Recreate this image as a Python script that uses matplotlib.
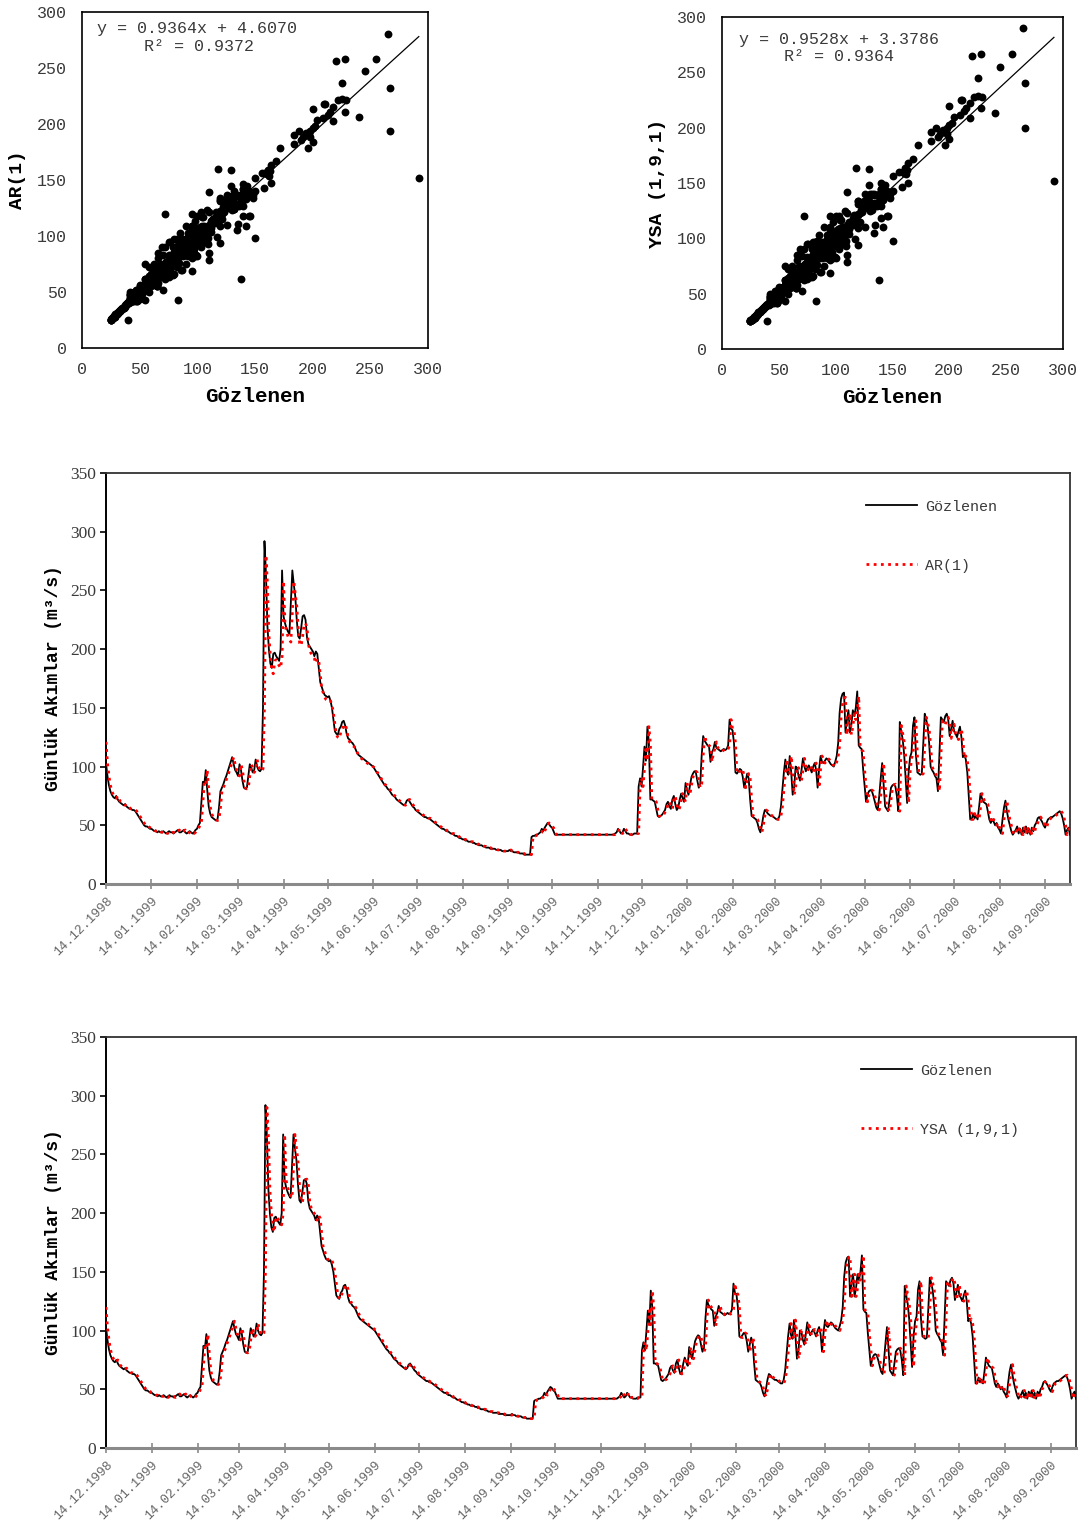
import matplotlib
matplotlib.use("Agg")
import matplotlib.pyplot as plt
import numpy as np
from datetime import datetime, timedelta

# gunluk akimlar (m3/s), 14.12.1998'den itibaren
baslangic = "14.12.1998"

gozlenen = [
    103, 92, 84, 79, 76, 74, 73, 75, 72, 70,
    69, 68, 67, 68, 66, 65, 64, 64, 63, 63,
    62, 60, 58, 56, 54, 52, 50, 49, 49, 48,
    47, 47, 46, 45, 45, 44, 45, 44, 44, 45,
    44, 43, 44, 45, 44, 44, 43, 44, 45, 46,
    44, 44, 45, 46, 44, 43, 44, 45, 44, 43,
    44, 46, 47, 50, 52, 70, 87, 85, 97, 80,
    66, 60, 57, 56, 55, 54, 55, 65, 79, 82,
    85, 89, 92, 96, 100, 104, 108, 102, 97, 95,
    92, 102, 97, 88, 82, 81, 82, 92, 102, 99,
    95, 97, 106, 100, 97, 96, 98, 150, 292, 265,
    220, 200, 188, 184, 196, 197, 194, 192, 190, 200,
    267, 228, 222, 218, 215, 213, 240, 267, 255, 245,
    225, 211, 209, 218, 228, 229, 225, 210, 204, 202,
    200, 198, 194, 198, 196, 184, 172, 168, 164, 161,
    160, 159, 160, 156, 150, 140, 130, 128, 127, 132,
    134, 138, 139, 135, 128, 124, 123, 121, 120, 118,
    115, 112, 110, 109, 108, 107, 106, 105, 104, 103,
    102, 101, 100, 98, 96, 94, 92, 90, 88, 86,
    84, 83, 81, 80, 78, 76, 75, 74, 72, 71,
    70, 69, 68, 67, 68, 71, 72, 70, 68, 66,
    65, 63, 62, 61, 60, 59, 58, 57, 57, 56,
    56, 55, 54, 53, 52, 51, 50, 49, 48, 47,
    47, 46, 45, 45, 44, 43, 43, 42, 41, 41,
    40, 39, 39, 38, 38, 37, 37, 36, 36, 36,
    35, 35, 34, 34, 33, 33, 33, 32, 32, 31,
    31, 31, 30, 30, 30, 30, 29, 29, 29, 29,
    28, 28, 28, 28, 28, 29, 28, 28, 27, 27,
    27, 27, 26, 26, 26, 25, 25, 25, 25, 25,
    40, 41, 41, 42, 42, 43, 44, 47, 45, 48,
    50, 52, 51, 49, 48, 45, 42, 42, 42, 42,
    42, 42, 42, 42, 42, 42, 42, 42, 42, 42,
    42, 42, 42, 42, 42, 42, 42, 42, 42, 42,
    42, 42, 42, 42, 42, 42, 42, 42, 42, 42,
    42, 42, 42, 42, 42, 42, 42, 43, 44, 47,
    45, 43, 44, 47, 45, 43, 43, 42, 42, 42,
    43, 43, 43, 83, 90, 83, 99, 117, 105, 134,
    120, 72, 72, 71, 70, 64, 58, 57, 58, 59,
    61, 63, 68, 70, 66, 64, 72, 75, 68, 63,
    65, 72, 77, 73, 70, 86, 80, 76, 84, 91,
    94, 96, 95, 88, 82, 85, 110, 126, 122, 120,
    118, 117, 104, 112, 115, 121, 116, 115, 114, 113,
    114, 115, 114, 115, 118, 140, 132, 131, 120, 95,
    94, 96, 98, 97, 91, 82, 88, 94, 90, 72,
    58, 57, 56, 55, 52, 47, 44, 50, 58, 63,
    62, 60, 59, 58, 58, 57, 56, 55, 55, 58,
    66, 80, 95, 106, 96, 93, 109, 95, 76, 82,
    100, 99, 92, 88, 97, 107, 100, 96, 99, 101,
    98, 95, 100, 103, 97, 82, 98, 109, 104, 103,
    105, 107, 106, 104, 102, 101, 100, 104, 109, 120,
    146, 158, 162, 163, 129, 140, 148, 129, 136, 148,
    143, 150, 164, 118, 116, 115, 98, 84, 70, 76,
    79, 80, 79, 75, 70, 65, 63, 75, 90, 103,
    85, 66, 64, 62, 72, 82, 84, 85, 83, 75,
    62, 138, 130, 123, 110, 90, 69, 95, 108, 112,
    135, 142, 110, 95, 94, 93, 94, 120, 145, 140,
    134, 120, 100, 97, 95, 92, 90, 79, 110, 142,
    140, 138, 143, 145, 140, 126, 132, 139, 130, 128,
    125, 130, 134, 125, 108, 110, 106, 95, 75, 55,
    55, 60, 56, 58, 55, 65, 77, 73, 70, 69,
    68, 62, 55, 52, 55, 53, 50, 52, 48, 46,
    43, 55, 65, 71, 62, 55, 50, 45, 42, 44,
    46, 49, 43, 47, 42, 48, 44, 49, 43, 47,
    42, 48, 45, 50, 52, 56, 57, 55, 53, 50,
    48, 52, 55, 56, 57, 57, 58, 59, 60, 61,
    62, 60, 56, 50, 42, 46, 48, 42,
]

ar1 = [
    121, 103, 92, 84, 79, 76, 74, 73, 75, 72,
    70, 69, 68, 67, 68, 66, 65, 64, 64, 63,
    63, 62, 60, 58, 56, 54, 52, 50, 49, 49,
    48, 47, 47, 46, 45, 45, 44, 45, 44, 44,
    45, 44, 43, 44, 45, 44, 44, 43, 44, 45,
    46, 44, 44, 45, 46, 44, 43, 44, 45, 44,
    43, 44, 46, 47, 50, 52, 70, 87, 85, 97,
    80, 66, 60, 57, 56, 55, 54, 55, 65, 79,
    82, 85, 89, 92, 96, 100, 104, 108, 102, 97,
    95, 92, 102, 97, 88, 82, 81, 82, 92, 102,
    99, 95, 97, 106, 100, 97, 96, 98, 152, 280,
    256, 213, 194, 182, 179, 190, 191, 188, 186, 184,
    194, 258, 221, 215, 211, 208, 206, 232, 258, 247,
    237, 218, 205, 203, 211, 221, 222, 218, 204, 198,
    196, 194, 192, 188, 192, 190, 179, 167, 163, 159,
    157, 156, 155, 156, 152, 146, 136, 127, 125, 124,
    129, 131, 135, 136, 132, 125, 121, 120, 118, 117,
    116, 113, 110, 108, 107, 106, 105, 104, 103, 102,
    102, 101, 100, 99, 97, 95, 93, 91, 89, 87,
    85, 84, 83, 81, 80, 78, 76, 75, 74, 72,
    71, 70, 69, 68, 67, 68, 71, 72, 70, 68,
    66, 65, 63, 62, 61, 60, 59, 58, 57, 57,
    56, 56, 55, 54, 53, 52, 51, 50, 49, 48,
    47, 47, 46, 45, 45, 44, 43, 43, 42, 41,
    41, 40, 39, 39, 38, 38, 37, 37, 36, 36,
    36, 35, 35, 34, 34, 33, 33, 33, 32, 32,
    31, 31, 31, 30, 30, 30, 30, 29, 29, 29,
    29, 28, 28, 28, 28, 28, 29, 28, 28, 27,
    27, 27, 27, 26, 26, 26, 25, 25, 25, 25,
    25, 40, 41, 41, 42, 42, 43, 44, 47, 45,
    48, 50, 52, 51, 49, 48, 45, 42, 42, 42,
    42, 42, 42, 42, 42, 42, 42, 42, 42, 42,
    42, 42, 42, 42, 42, 42, 42, 42, 42, 42,
    42, 42, 42, 42, 42, 42, 42, 42, 42, 42,
    42, 42, 42, 42, 42, 42, 42, 42, 43, 44,
    47, 45, 43, 44, 47, 45, 43, 43, 42, 42,
    42, 43, 43, 43, 83, 90, 83, 99, 117, 105,
    134, 120, 72, 72, 71, 70, 64, 58, 57, 58,
    59, 61, 63, 68, 70, 66, 64, 72, 75, 68,
    63, 65, 72, 77, 73, 70, 86, 80, 76, 84,
    91, 94, 96, 95, 88, 82, 85, 110, 126, 122,
    120, 118, 117, 104, 112, 115, 121, 116, 115, 114,
    113, 114, 115, 114, 115, 118, 140, 132, 131, 120,
    95, 94, 96, 98, 97, 91, 82, 88, 94, 90,
    72, 58, 57, 56, 55, 52, 47, 44, 50, 58,
    63, 62, 60, 59, 58, 58, 57, 56, 55, 55,
    58, 66, 80, 95, 106, 96, 93, 109, 95, 76,
    82, 100, 99, 92, 88, 97, 107, 100, 96, 99,
    101, 98, 95, 100, 103, 97, 82, 98, 109, 104,
    103, 105, 107, 106, 104, 102, 101, 100, 104, 109,
    118, 143, 154, 158, 159, 127, 137, 145, 127, 134,
    145, 140, 147, 160, 116, 114, 113, 97, 83, 70,
    76, 79, 80, 79, 75, 70, 65, 63, 75, 90,
    103, 85, 66, 64, 62, 72, 82, 84, 85, 83,
    75, 62, 135, 128, 121, 109, 90, 69, 95, 107,
    111, 133, 139, 109, 95, 94, 93, 94, 118, 142,
    137, 132, 118, 100, 97, 95, 92, 90, 79, 109,
    139, 137, 136, 140, 142, 137, 124, 130, 136, 128,
    126, 123, 128, 132, 123, 107, 109, 105, 95, 75,
    55, 55, 60, 56, 58, 55, 65, 77, 73, 70,
    69, 68, 62, 55, 52, 55, 53, 50, 52, 48,
    46, 43, 55, 65, 71, 62, 55, 50, 45, 42,
    44, 46, 49, 43, 47, 42, 48, 44, 49, 43,
    47, 42, 48, 45, 50, 52, 56, 57, 55, 53,
    50, 48, 52, 55, 56, 57, 57, 58, 59, 60,
    61, 62, 60, 56, 50, 42, 46, 48,
]

ysa = [
    120, 103, 92, 84, 79, 76, 74, 73, 75, 72,
    70, 69, 68, 67, 68, 66, 65, 64, 64, 63,
    63, 62, 60, 58, 56, 54, 52, 50, 49, 49,
    48, 47, 47, 46, 45, 45, 44, 45, 44, 44,
    45, 44, 43, 44, 45, 44, 44, 43, 44, 45,
    46, 44, 44, 45, 46, 44, 43, 44, 45, 44,
    43, 44, 46, 47, 50, 52, 70, 87, 85, 97,
    80, 66, 60, 57, 56, 55, 54, 55, 65, 79,
    82, 85, 89, 92, 96, 100, 104, 108, 102, 97,
    95, 92, 102, 97, 88, 82, 81, 82, 92, 102,
    99, 95, 97, 106, 100, 97, 96, 98, 152, 290,
    265, 220, 200, 188, 184, 196, 197, 194, 192, 190,
    200, 267, 228, 222, 218, 215, 213, 240, 267, 255,
    245, 225, 211, 209, 218, 228, 229, 225, 210, 204,
    202, 200, 198, 194, 198, 196, 184, 172, 168, 164,
    161, 160, 159, 160, 156, 150, 140, 130, 128, 127,
    132, 134, 138, 139, 135, 128, 124, 123, 121, 120,
    118, 115, 112, 110, 109, 108, 107, 106, 105, 104,
    103, 102, 101, 100, 98, 96, 94, 92, 90, 88,
    86, 84, 83, 81, 80, 78, 76, 75, 74, 72,
    71, 70, 69, 68, 67, 68, 71, 72, 70, 68,
    66, 65, 63, 62, 61, 60, 59, 58, 57, 57,
    56, 56, 55, 54, 53, 52, 51, 50, 49, 48,
    47, 47, 46, 45, 45, 44, 43, 43, 42, 41,
    41, 40, 39, 39, 38, 38, 37, 37, 36, 36,
    36, 35, 35, 34, 34, 33, 33, 33, 32, 32,
    31, 31, 31, 30, 30, 30, 30, 29, 29, 29,
    29, 28, 28, 28, 28, 28, 29, 28, 28, 27,
    27, 27, 27, 26, 26, 26, 25, 25, 25, 25,
    25, 40, 41, 41, 42, 42, 43, 44, 47, 45,
    48, 50, 52, 51, 49, 48, 45, 42, 42, 42,
    42, 42, 42, 42, 42, 42, 42, 42, 42, 42,
    42, 42, 42, 42, 42, 42, 42, 42, 42, 42,
    42, 42, 42, 42, 42, 42, 42, 42, 42, 42,
    42, 42, 42, 42, 42, 42, 42, 42, 43, 44,
    47, 45, 43, 44, 47, 45, 43, 43, 42, 42,
    42, 43, 43, 43, 83, 90, 83, 99, 117, 105,
    134, 120, 72, 72, 71, 70, 64, 58, 57, 58,
    59, 61, 63, 68, 70, 66, 64, 72, 75, 68,
    63, 65, 72, 77, 73, 70, 86, 80, 76, 84,
    91, 94, 96, 95, 88, 82, 85, 110, 126, 122,
    120, 118, 117, 104, 112, 115, 121, 116, 115, 114,
    113, 114, 115, 114, 115, 118, 140, 132, 131, 120,
    95, 94, 96, 98, 97, 91, 82, 88, 94, 90,
    72, 58, 57, 56, 55, 52, 47, 44, 50, 58,
    63, 62, 60, 59, 58, 58, 57, 56, 55, 55,
    58, 66, 80, 95, 106, 96, 93, 109, 95, 76,
    82, 100, 99, 92, 88, 97, 107, 100, 96, 99,
    101, 98, 95, 100, 103, 97, 82, 98, 109, 104,
    103, 105, 107, 106, 104, 102, 101, 100, 104, 109,
    120, 146, 158, 162, 163, 129, 140, 148, 129, 136,
    148, 143, 150, 164, 118, 116, 115, 98, 84, 70,
    76, 79, 80, 79, 75, 70, 65, 63, 75, 90,
    103, 85, 66, 64, 62, 72, 82, 84, 85, 83,
    75, 62, 138, 130, 123, 110, 90, 69, 95, 108,
    112, 135, 142, 110, 95, 94, 93, 94, 120, 145,
    140, 134, 120, 100, 97, 95, 92, 90, 79, 110,
    142, 140, 138, 143, 145, 140, 126, 132, 139, 130,
    128, 125, 130, 134, 125, 108, 110, 106, 95, 75,
    55, 55, 60, 56, 58, 55, 65, 77, 73, 70,
    69, 68, 62, 55, 52, 55, 53, 50, 52, 48,
    46, 43, 55, 65, 71, 62, 55, 50, 45, 42,
    44, 46, 49, 43, 47, 42, 48, 44, 49, 43,
    47, 42, 48, 45, 50, 52, 56, 57, 55, 53,
    50, 48, 52, 55, 56, 57, 57, 58, 59, 60,
    61, 62, 60, 56, 50, 42, 46, 48,
]

tarih_etiket = [
    "14.12.1998", "14.01.1999", "14.02.1999", "14.03.1999", "14.04.1999",
    "14.05.1999", "14.06.1999", "14.07.1999", "14.08.1999", "14.09.1999",
    "14.10.1999", "14.11.1999", "14.12.1999", "14.01.2000", "14.02.2000",
    "14.03.2000", "14.04.2000", "14.05.2000", "14.06.2000", "14.07.2000",
    "14.08.2000", "14.09.2000",
]

# trend cizgisi (Excel'deki degerler)
ar_egim, ar_kesen, ar_r2 = 0.9364, 4.6070, 0.9372
ysa_egim, ysa_kesen, ysa_r2 = 0.9528, 3.3786, 0.9364

MONO = "Liberation Mono"
SERIF = "Liberation Serif"
GRI = "#3a3a3a"

W, H = 1083, 1524
fig = plt.figure(figsize=(W / 100, H / 100), dpi=100)


def eksen(l, t, r, b):
    return fig.add_axes([l / W, 1 - b / H, (r - l) / W, (b - t) / H])


def sacilim(ax, tahmin, egim, kesen, r2, ylabel, eq_pos, r2_pos):
    ax.scatter(gozlenen, tahmin, s=32, color="black", linewidths=0, zorder=3)
    xs = np.array([min(gozlenen), max(gozlenen)])
    ax.plot(xs, egim * xs + kesen, color="black", lw=0.9, zorder=4)
    ax.set_xlim(0, 300)
    ax.set_ylim(0, 300)
    ax.set_xticks(range(0, 301, 50))
    ax.set_yticks(range(0, 301, 50))
    ax.tick_params(length=0, labelsize=12, labelcolor=GRI)
    ax.tick_params(axis="x", pad=10)
    ax.tick_params(axis="y", pad=11)
    for lab in ax.get_xticklabels() + ax.get_yticklabels():
        lab.set_fontfamily(MONO)
    for s in ax.spines.values():
        s.set_linewidth(1.2)
    ax.set_xlabel("Gözlenen", fontfamily=MONO, fontweight="bold", fontsize=15, labelpad=7)
    ax.set_ylabel(ylabel, fontfamily=MONO, fontweight="bold", fontsize=14, labelpad=8)
    ax.text(eq_pos[0], eq_pos[1], "y = %.4fx + %.4f" % (egim, kesen), transform=ax.transAxes,
            fontfamily=MONO, fontsize=12, color=GRI, va="center", ha="left")
    ax.text(r2_pos[0], r2_pos[1], "R² = %.4f" % r2, transform=ax.transAxes,
            fontfamily=MONO, fontsize=12, color=GRI, va="center", ha="left")


def zaman(ax, tahmin, etiket, leg_x):
    t0 = datetime.strptime(baslangic, "%d.%m.%Y")
    x_obs = [t0 + timedelta(days=i) for i in range(len(gozlenen))]
    x_thm = [t0 + timedelta(days=i) for i in range(len(tahmin))]
    ax.plot(x_obs, gozlenen, color="black", lw=1.3, label="Gözlenen", zorder=3)
    ax.plot(x_thm, tahmin, color="red", lw=2.0, linestyle=(0, (1, 1.6)), label=etiket, zorder=4)
    ax.set_xlim(x_obs[0], x_obs[-1])
    ax.set_ylim(0, 350)
    ax.set_yticks(range(0, 351, 50))
    ticks = [datetime.strptime(s, "%d.%m.%Y") for s in tarih_etiket]
    ax.set_xticks(ticks)
    ax.set_xticklabels(tarih_etiket, rotation=45, ha="right", va="top",
                       rotation_mode="anchor", fontfamily=MONO, fontsize=9.3, color="#666666")
    ax.tick_params(axis="x", direction="inout", length=7, width=1.2, color="#8a8a8a", pad=4)
    ax.tick_params(axis="y", direction="out", length=4, width=1.2, color="black", pad=3,
                   labelsize=12.5, labelcolor=GRI)
    for lab in ax.get_yticklabels():
        lab.set_fontfamily(SERIF)
    ax.spines["left"].set_color("black")
    ax.spines["left"].set_linewidth(1.4)
    ax.spines["bottom"].set_color("#8a8a8a")
    ax.spines["bottom"].set_linewidth(2.2)
    for k in ("top", "right"):
        ax.spines[k].set_color("#333333")
        ax.spines[k].set_linewidth(1.3)
    ax.set_ylabel("Günlük Akımlar (m³/s)", fontfamily=MONO, fontweight="bold",
                  fontsize=13, labelpad=6)
    leg = ax.legend(loc="upper left", bbox_to_anchor=(leg_x, 0.935), frameon=False,
                    prop={"family": MONO, "size": 10.8}, handlelength=3.4,
                    handletextpad=0.55, labelspacing=3.0, borderpad=0, borderaxespad=0)
    for t in leg.get_texts():
        t.set_color(GRI)


ax1 = eksen(82, 12, 428, 348)
sacilim(ax1, ar1, ar_egim, ar_kesen, ar_r2, "AR(1)", (0.043, 0.95), (0.179, 0.896))

ax2 = eksen(722, 17, 1063, 349)
sacilim(ax2, ysa, ysa_egim, ysa_kesen, ysa_r2, "YSA (1,9,1)", (0.05, 0.931), (0.182, 0.88))

ax3 = eksen(106, 473, 1070, 884)
zaman(ax3, ar1, "AR(1)", 0.788)

ax4 = eksen(106, 1037, 1076, 1448)
zaman(ax4, ysa, "YSA (1,9,1)", 0.778)

fig.savefig("out.png", dpi=100)
